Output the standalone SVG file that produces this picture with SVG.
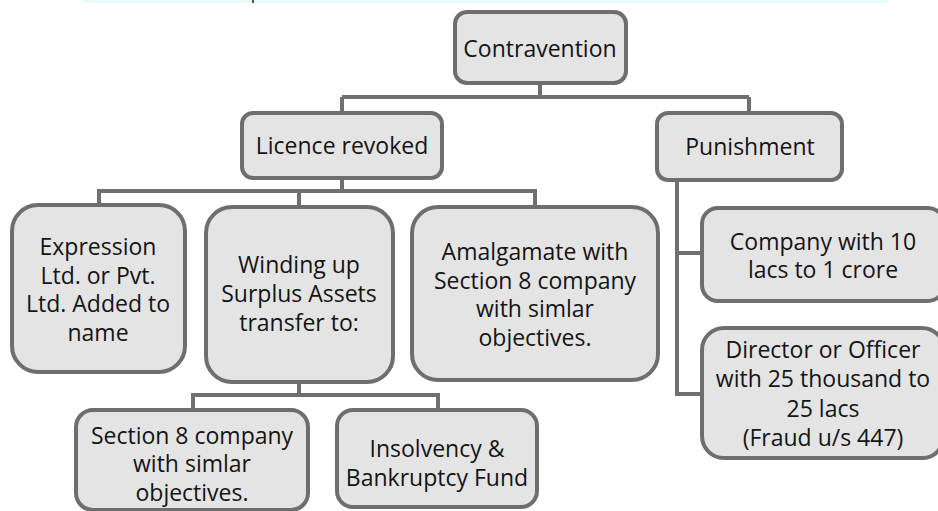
<svg xmlns="http://www.w3.org/2000/svg" width="938" height="511" viewBox="0 0 938 511">
  <style>
    .box { fill: #e4e4e4; stroke: #6e6e6e; stroke-width: 4; }
    .lbl { font-family: "Open Sans", "Noto Sans", "DejaVu Sans", sans-serif; font-size: 23px; fill: #141414; text-anchor: middle; }
    .wire { fill: none; stroke: #707070; stroke-width: 4; stroke-linejoin: miter; }
  </style>
  <rect width="938" height="511" fill="#ffffff"/>
  <!-- thin banner strip along the top edge -->
  <rect x="83" y="0" width="805" height="3" fill="#e8fbfb"/>
  <rect x="252" y="0" width="2" height="3" fill="#555555"/>

  <g id="connectors">
    <path class="wire" d="M540,83 V97 M342,97 H749 M342,97 V113 M749,97 V113"/>
    <path class="wire" d="M342,178 V191 M99,205 V191 H535 V207 M299,191 V207"/>
    <path class="wire" d="M299,382 V395 M193,410 V395 H438 V410"/>
    <path class="wire" d="M677,180 V394 H702 M677,253 H702"/>
  </g>

  <g id="contravention">
    <rect class="box" x="455" y="12" width="171" height="71" rx="12"/>
    <text class="lbl" x="540" y="57">Contravention</text>
  </g>

  <g id="licence-revoked">
    <rect class="box" x="242" y="113" width="200" height="65" rx="11"/>
    <text class="lbl" x="342" y="154">Licence revoked</text>
  </g>

  <g id="punishment">
    <rect class="box" x="657" y="113" width="185" height="67" rx="11"/>
    <text class="lbl" x="750" y="155">Punishment</text>
  </g>

  <g id="expression">
    <rect class="box" x="12" y="205" width="173" height="167" rx="26"/>
    <text class="lbl" x="98" y="255">Expression<tspan x="98" dy="28.5">Ltd. or Pvt.</tspan><tspan x="98" dy="28.5">Ltd. Added to</tspan><tspan x="98" dy="28.5">name</tspan></text>
  </g>

  <g id="winding-up">
    <rect class="box" x="206" y="207" width="187" height="175" rx="26"/>
    <text class="lbl" x="299" y="273">Winding up<tspan x="299" dy="29">Surplus Assets</tspan><tspan x="299" dy="29">transfer to:</tspan></text>
  </g>

  <g id="amalgamate">
    <rect class="box" x="412" y="207" width="246" height="173" rx="26"/>
    <text class="lbl" x="535" y="260">Amalgamate with<tspan x="535" dy="28.5">Section 8 company</tspan><tspan x="535" dy="28.5">with simlar</tspan><tspan x="535" dy="29">objectives.</tspan></text>
  </g>

  <g id="section8-company">
    <rect class="box" x="76" y="410" width="232" height="100" rx="17"/>
    <text class="lbl" x="192" y="444">Section 8 company<tspan x="192" dy="28">with simlar</tspan><tspan x="192" dy="28.5">objectives.</tspan></text>
  </g>

  <g id="insolvency-fund">
    <rect class="box" x="337" y="410" width="200" height="97" rx="16"/>
    <text class="lbl" x="437" y="457">Insolvency &amp;<tspan x="437" dy="29">Bankruptcy Fund</tspan></text>
  </g>

  <g id="company-penalty">
    <rect class="box" x="702" y="208" width="242" height="93" rx="16"/>
    <text class="lbl" x="823" y="250">Company with 10<tspan x="823" dy="28">lacs to 1 crore</tspan></text>
  </g>

  <g id="director-penalty">
    <rect class="box" x="702" y="328" width="242" height="130" rx="22"/>
    <text class="lbl" x="823" y="358">Director or Officer<tspan x="823" dy="29">with 25 thousand to</tspan><tspan x="823" dy="29.5">25 lacs</tspan><tspan x="823" dy="29">(Fraud u/s 447)</tspan></text>
  </g>
</svg>
